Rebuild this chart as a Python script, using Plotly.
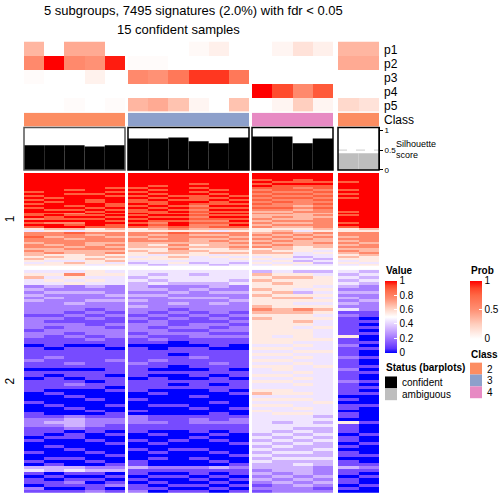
import plotly.graph_objects as go

W = H = 504
FONT = "Liberation Sans, Arial, Helvetica, sans-serif"


def px(x):
    return x / W


def py(y):
    return 1 - y / H


# ---------------- data ----------------
GROUP_SIZES = [5, 6, 4, 2]
CLASS = [2, 2, 2, 2, 2, 3, 3, 3, 3, 3, 3, 4, 4, 4, 4, 2, 2]
CLASS_LEVELS = [2, 3, 4]
CLASS_COLORS = {2: "#FC8D62", 3: "#8DA0CB", 4: "#E78AC3"}

P1 = [0.35, 0.0, 0.40, 0.40, 0.0, 0.0, 0.0, 0.0, 0.03, 0.08, 0.0, 0.0, 0.05, 0.15, 0.08, 0.35, 0.35]
P2 = [0.55, 1.0, 0.55, 0.50, 0.95, 0.02, 0.02, 0.0, 0.0, 0.0, 0.0, 0.0, 0.0, 0.0, 0.0, 0.40, 0.40]
P3 = [0.02, 0.0, 0.0, 0.07, 0.0, 0.55, 0.50, 0.65, 0.90, 0.90, 0.65, 0.0, 0.0, 0.0, 0.0, 0.0, 0.0]
P4 = [0.0, 0.0, 0.0, 0.0, 0.0, 0.0, 0.0, 0.0, 0.0, 0.0, 0.0, 1.0, 0.85, 0.55, 0.80, 0.0, 0.0]
P5 = [0.0, 0.0, 0.02, 0.0, 0.02, 0.35, 0.40, 0.30, 0.05, 0.0, 0.30, 0.0, 0.05, 0.25, 0.05, 0.20, 0.15]
PROB_ROWS = ["p1", "p2", "p3", "p4", "p5"]

SILHOUETTE = [0.62, 0.62, 0.62, 0.59, 0.62, 0.79, 0.79, 0.82, 0.72, 0.67, 0.82,
              0.84, 0.84, 0.67, 0.79, 0.42, 0.42]
STATUS = ["confident"] * 15 + ["ambiguous"] * 2
STATUS_LEVELS = ["confident", "ambiguous"]
STATUS_COLORS = {"confident": "#000000", "ambiguous": "#BEBEBE"}

SLICE_LABELS = ["1", "2"]
VALUE_TICKS = [0, 0.2, 0.4, 0.6, 0.8, 1]
PROB_TICKS = [0, 0.5, 1]
SIL_TICKS = [0, 0.5, 1]

# heatmap values per column, digit d -> d/9 (rows top to bottom)
SLICE1 = [
    "9999999|9989898|98989988979898|54|77877677676|656545",
    "9999999|9999989|89998989889799|65|77677767667|565455",
    "9999999|9898999|99898978989789|64|87767776766|555465",
    "9999999|9998998|89989898989998|55|76777667766|656554",
    "9999999|8989899|98898989898988|65|77677676767|565645",
    "9999999|8989898|89898898989898|55|77677666565|545434",
    "9999998|9898989|88989889898787|65|76767656556|455443",
    "9999999|9999898|99898989898998|75|87777676766|565454",
    "9999989|8989888|98787878787877|65|76766656565|544434",
    "9999999|9898989|88989898987878|64|76767666556|454443",
    "9999999|9999898|98989898989898|65|77676767656|545434",
    "9998989|8787878|78787676676767|55|67676767566|545454",
    "9999898|8878787|87787676767676|56|76767676656|554545",
    "9998898|7878787|77676766667676|54|67676665554|434354",
    "9999898|8787878|78787767677777|65|76766766545|443434",
    "9999899|9898989|99999898999898|55|77676767676|565454",
    "9999999|9999999|99999999999999|65|77777677667|655545",
]
SLICE2 = [
    "45644|23232322|22122|221221101111211011011|1|100010001|12221|110100010010|34|1011021",
    "45454|32323222|22121|212211110112111010111|1|010001000|12321|101001000101|33|0101101",
    "47545|22322232|21211|222121101111121011012|1|001000100|23332|011000100100|34|1012101",
    "55454|32322322|12121|122212101111111011101|1|000100010|12221|100100010010|23|1010112",
    "45444|22232322|21211|212221110111211110111|0|100001001|12211|010010001001|23|0101201",
    "44343|33232323|22121|222121101111121111011|1|100100010|22211|100100100011|31|1010112",
    "43434|23232222|21212|212212100111211010111|1|010001000|11211|010010010100|21|0101010",
    "44443|22323232|12121|121211001101110010010|1|000001000|11111|000100100000|21|0100101",
    "43443|23223222|21211|221221101112111011011|1|001000100|12211|101000100100|21|1010101",
    "44443|32323232|22121|212121110111121110110|1|100010001|11211|010100010010|31|0101010",
    "44434|22322322|21212|122121100111111011011|1|010000100|12211|100010001001|21|1010101",
    "36565|56565556|76565|555555545454545445454|4|564545454|44444|434343434343|32|3232121",
    "45656|55656555|66555|555545545454545545454|4|554545445|44344|343434343433|33|2323222",
    "35655|54356545|76556|545555454545454454545|4|454544545|44443|434343343434|33|3232322",
    "34555|45454545|65454|454445444544445444444|4|444454444|34343|343433433433|22|2323212",
    "43434|32323232|41211|111151121112111211121|1|110101101|10511|101101011011|31|1011010",
    "34343|22322322|21101|010100101001001010010|1|010001000|00100|010010001001|21|0100100",
]


def decode(s):
    return [int(ch) / 9 for ch in s.replace("|", "")]


S1 = [decode(s) for s in SLICE1]
S2 = [decode(s) for s in SLICE2]
N1 = len(S1[0])
N2 = len(S2[0])
assert all(len(c) == N1 for c in S1), [len(c) for c in S1]
assert all(len(c) == N2 for c in S2), [len(c) for c in S2]

# ---------------- styles / layout geometry ----------------
VALUE_SCALE = [
    [0, "rgb(0,0,255)"], [0.0625, "rgb(93,53,255)"], [0.125, "rgb(126,81,255)"],
    [0.25, "rgb(179,139,255)"], [0.375, "rgb(221,197,255)"], [0.5, "rgb(255,255,255)"],
    [0.625, "rgb(255,207,191)"], [0.75, "rgb(255,145,117)"], [0.875, "rgb(255,104,70)"],
    [0.9375, "rgb(255,69,40)"], [1, "rgb(255,0,0)"],
]
PROB_SCALE = [
    [0, "rgb(255,255,255)"], [0.25, "rgb(255,207,191)"], [0.5, "rgb(255,145,117)"],
    [0.75, "rgb(255,104,70)"], [0.875, "rgb(255,69,40)"], [1, "rgb(255,0,0)"],
]
CLASS_SCALE = [
    [0, CLASS_COLORS[2]], [0.25, CLASS_COLORS[2]], [0.25, CLASS_COLORS[3]],
    [0.75, CLASS_COLORS[3]], [0.75, CLASS_COLORS[4]], [1, CLASS_COLORS[4]],
]

X_PIX = [(24, 125), (128, 249), (252, 333), (338, 379)]
PROB_Y = (41, 112)
CLASS_Y = (113, 127)
SIL_Y = (128, 171)
SL1_Y = (174, 268)
SL2_Y = (272, 498)
SIL_TOP = (SIL_Y[1] - SIL_Y[0]) / 40.2

fig = go.Figure()
layout = {}
shapes = []
annotations = []

prob_matrix = [P1, P2, P3, P4, P5]
start = 0
for g, n in enumerate(GROUP_SIZES):
    cols = list(range(start, start + n))
    start += n
    xid = "x" if g == 0 else f"x{g + 1}"
    xname = "xaxis" if g == 0 else f"xaxis{g + 1}"
    layout[xname] = dict(domain=[px(X_PIX[g][0]), px(X_PIX[g][1])], range=[-0.5, n - 0.5],
                         visible=False, anchor="y", fixedrange=True)
    xs = list(range(n))

    zp = [[row[c] for c in cols] for row in prob_matrix]
    fig.add_trace(go.Heatmap(
        x=xs, y=list(range(len(PROB_ROWS))), z=zp, xaxis=xid, yaxis="y",
        zmin=0, zmax=1, colorscale=PROB_SCALE, showscale=(g == 0), hoverinfo="skip",
        colorbar=dict(x=px(470), xanchor="left", y=py(283), yanchor="top",
                      len=58, lenmode="pixels", thickness=12, thicknessmode="pixels",
                      xpad=0, ypad=0, outlinewidth=0, ticks="inside", ticklen=3,
                      tickcolor="white", tickvals=PROB_TICKS,
                      ticktext=[str(t) for t in PROB_TICKS],
                      tickfont=dict(size=10, family=FONT, color="black")),
    ))
    zc = [[CLASS[c] for c in cols]]
    fig.add_trace(go.Heatmap(
        x=xs, y=[0], z=zc, xaxis=xid, yaxis="y2", zmin=2, zmax=4,
        colorscale=CLASS_SCALE, showscale=False, hoverinfo="skip",
    ))
    fig.add_trace(go.Bar(
        x=xs, y=[SILHOUETTE[c] for c in cols], xaxis=xid, yaxis="y3", width=1,
        marker=dict(color=[STATUS_COLORS[STATUS[c]] for c in cols], line=dict(width=0)),
        hoverinfo="skip",
    ))
    z1 = [[S1[c][r] for c in cols] for r in range(N1)]
    fig.add_trace(go.Heatmap(
        x=xs, y=list(range(N1)), z=z1, xaxis=xid, yaxis="y4", zmin=0, zmax=1,
        colorscale=VALUE_SCALE, showscale=(g == 0), hoverinfo="skip",
        colorbar=dict(x=px(385), xanchor="left", y=py(283), yanchor="top",
                      len=72, lenmode="pixels", thickness=12, thicknessmode="pixels",
                      xpad=0, ypad=0, outlinewidth=0, ticks="inside", ticklen=3,
                      tickcolor="white", tickvals=VALUE_TICKS,
                      ticktext=[str(t) for t in VALUE_TICKS],
                      tickfont=dict(size=10, family=FONT, color="black")),
    ))
    z2 = [[S2[c][r] for c in cols] for r in range(N2)]
    fig.add_trace(go.Heatmap(
        x=xs, y=list(range(N2)), z=z2, xaxis=xid, yaxis="y5", zmin=0, zmax=1,
        colorscale=VALUE_SCALE, showscale=False, hoverinfo="skip",
    ))

    # silhouette dashed reference and box
    shapes.append(dict(type="line", xref=xid, yref="y3", x0=-0.5, x1=n - 0.5, y0=0.5, y1=0.5,
                       line=dict(color="#CCCCCC", width=1, dash="dash"), layer="below"))
    shapes.append(dict(type="rect", xref="paper", yref="paper",
                       x0=px(X_PIX[g][0]), x1=px(X_PIX[g][1]), y0=py(SIL_Y[1]), y1=py(SIL_Y[0]),
                       line=dict(color="#555555" if g == 0 else "#000000", width=1.5)))

layout["yaxis"] = dict(domain=[py(PROB_Y[1]), py(PROB_Y[0])], range=[len(PROB_ROWS) - 0.5, -0.5],
                       visible=False, anchor="x", fixedrange=True)
layout["yaxis2"] = dict(domain=[py(CLASS_Y[1]), py(CLASS_Y[0])], range=[0.5, -0.5],
                        visible=False, anchor="x", fixedrange=True)
layout["yaxis3"] = dict(domain=[py(SIL_Y[1]), py(SIL_Y[0])], range=[0, SIL_TOP],
                        anchor="x4", side="right", showline=True, linecolor="black", linewidth=1,
                        ticks="outside", ticklen=3, tickcolor="black",
                        tickvals=SIL_TICKS, ticktext=[str(t) for t in SIL_TICKS],
                        tickfont=dict(size=8, family=FONT, color="black"),
                        showgrid=False, zeroline=False, fixedrange=True)
layout["yaxis4"] = dict(domain=[py(SL1_Y[1]), py(SL1_Y[0])], range=[N1 - 0.5, -0.5],
                        visible=False, anchor="x", fixedrange=True)
layout["yaxis5"] = dict(domain=[py(SL2_Y[1]), py(SL2_Y[0])], range=[N2 - 0.5, -0.5],
                        visible=False, anchor="x", fixedrange=True)


def txt(x, y, text, size=12, xanchor="left", bold=False, angle=0):
    annotations.append(dict(
        x=px(x), y=py(y), xref="paper", yref="paper", text=f"<b>{text}</b>" if bold else text,
        showarrow=False, xanchor=xanchor, yanchor="middle", textangle=angle,
        font=dict(size=size, family=FONT, color="black"),
    ))


# titles
txt(193, 10, "5 subgroups, 7495 signatures (2.0%) with fdr &lt; 0.05", size=13, xanchor="center")
txt(178, 29, "15 confident samples", size=13, xanchor="center")

# annotation row names
row_h = (PROB_Y[1] - PROB_Y[0]) / len(PROB_ROWS)
for i, name in enumerate(PROB_ROWS):
    txt(382, PROB_Y[0] + row_h * (i + 0.5) + 1.5, name, size=12)
txt(382, (CLASS_Y[0] + CLASS_Y[1]) / 2 + 0.5, "Class", size=12)
txt(394, 145, "Silhouette", size=9)
txt(394, 156, "score", size=9)

# slice labels
txt(10, (SL1_Y[0] + SL1_Y[1]) / 2, SLICE_LABELS[0], size=12, xanchor="center", angle=-90)
txt(10, (SL2_Y[0] + SL2_Y[1]) / 2, SLICE_LABELS[1], size=12, xanchor="center", angle=-90)

# legends
txt(384, 272.5, "Value", size=10, bold=True)
txt(469, 272.5, "Prob", size=10, bold=True)
txt(469, 358, "Class", size=10, bold=True)
for i, lev in enumerate(CLASS_LEVELS):
    y0 = 366 + 12 * i
    shapes.append(dict(type="rect", xref="paper", yref="paper", x0=px(470), x1=px(482),
                       y0=py(y0 + 12), y1=py(y0), fillcolor=CLASS_COLORS[lev],
                       line=dict(width=0)))
    txt(485, y0 + 6.5, str(lev), size=10)
txt(384, 371, "Status (barplots)", size=10, bold=True)
for i, lev in enumerate(STATUS_LEVELS):
    y0 = 380 + 12 * i
    shapes.append(dict(type="rect", xref="paper", yref="paper", x0=px(385), x1=px(397),
                       y0=py(y0 + 12), y1=py(y0), fillcolor=STATUS_COLORS[lev],
                       line=dict(width=0)))
    txt(400, y0 + 6, lev, size=10)

fig.update_layout(
    width=W, height=H, autosize=False,
    margin=dict(l=0, r=0, t=0, b=0, pad=0),
    paper_bgcolor="white", plot_bgcolor="white",
    showlegend=False, shapes=shapes, annotations=annotations,
    font=dict(family=FONT, color="black"),
    **layout,
)

fig.write_html("out.html", config={"displayModeBar": False},
               post_script="document.body.style.margin='0px';")
